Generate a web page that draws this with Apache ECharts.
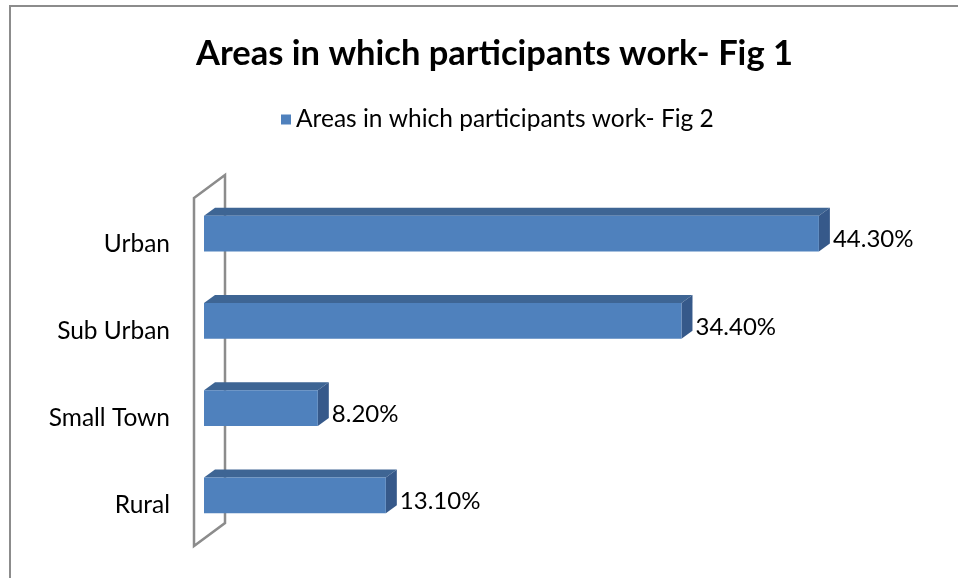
<!DOCTYPE html>
<html>
<head>
<meta charset="utf-8">
<script src="https://cdn.jsdelivr.net/npm/echarts@6/dist/echarts.min.js"></script>
<style>
html,body{margin:0;padding:0;background:#fff;}
#frame{position:absolute;left:9px;top:5px;width:1000px;height:600px;border-left:2px solid #8c8c8c;border-top:2px solid #8c8c8c;box-sizing:border-box;}
#chart{position:absolute;left:0;top:0;width:958px;height:578px;}
</style>
</head>
<body>
<div id="frame"></div>
<div id="chart"></div>
<script>
const titleText = 'Areas in which participants work- Fig 1';
const seriesName = 'Areas in which participants work- Fig 2';
const categories = ['Urban', 'Sub Urban', 'Small Town', 'Rural'];
const values = [44.3, 34.4, 8.2, 13.1];

const chart = echarts.init(document.getElementById('chart'));
const DX = 11, DY = -8;

function renderItem(params, api) {
  const catIdx = api.value(0);
  const val = api.value(1);
  const start = api.coord([0, catIdx]);
  const end = api.coord([val, catIdx]);
  const band = api.size([0, 1])[1];
  const h = band * 0.41;
  const x0 = start[0], x1 = end[0];
  const top = start[1] - h / 2, bot = start[1] + h / 2;
  const children = [];
  if (params.dataIndex === 0) {
    const cs = params.coordSys;
    const gx = cs.x, gt = cs.y, gb = cs.y + cs.height;
    const fl = gx - 10, bl = gx + 21;
    children.push({
      type: 'polygon',
      shape: { points: [[fl, gt + 8], [bl, gt - 15], [bl, gb - 16], [fl, gb + 7]] },
      style: { fill: '#ffffff', stroke: '#8c8c8c', lineWidth: 2.5 },
      z2: 0
    });
  }
  children.push({
    type: 'polygon',
    shape: { points: [[x0, top], [x0 + DX, top + DY], [x1 + DX, top + DY], [x1, top]] },
    style: { fill: '#3e6594' }, z2: 2
  });
  children.push({
    type: 'polygon',
    shape: { points: [[x1, top], [x1 + DX, top + DY], [x1 + DX, bot + DY], [x1, bot]] },
    style: { fill: '#36598a' }, z2: 2
  });
  children.push({
    type: 'rect',
    shape: { x: x0, y: top, width: x1 - x0, height: h },
    style: { fill: '#4f81bd' }, z2: 3
  });
  children.push({
    type: 'text',
    style: {
      text: val.toFixed(2) + '%',
      x: x1 + DX + 3, y: start[1] + 6,
      align: 'left', verticalAlign: 'middle',
      font: '24px Lato, "Open Sans", sans-serif', fill: '#000'
    }, z2: 4
  });
  return { type: 'group', children: children };
}

chart.setOption({
  animation: false,
  title: {
    text: titleText, left: 191, top: 31,
    textStyle: { fontFamily: 'Lato', fontWeight: 'bold', fontSize: 34.5, color: '#000' }
  },
  legend: {
    top: 102, left: 276,
    itemWidth: 10, itemHeight: 10, itemGap: 7,
    icon: 'rect',
    textStyle: { fontFamily: 'Lato', fontSize: 24.5, color: '#000' },
    data: [{ name: seriesName, itemStyle: { color: '#4f81bd' } }]
  },
  grid: { left: 204, top: 190, width: 694, height: 349, containLabel: false },
  xAxis: {
    type: 'value', min: 0, max: 50, show: false
  },
  yAxis: {
    type: 'category', data: categories, inverse: true,
    axisLine: { show: false }, axisTick: { show: false }, splitLine: { show: false },
    axisLabel: {
      margin: 34, fontFamily: 'Lato', fontSize: 24.5, color: '#000',
      verticalAlign: 'top', lineHeight: 20
    }
  },
  series: [{
    name: seriesName,
    type: 'custom',
    renderItem: renderItem,
    itemStyle: { color: '#4f81bd' },
    encode: { y: 0, x: 1 },
    data: categories.map((c, i) => [i, values[i]]),
    clip: false
  }]
});
</script>
</body>
</html>
